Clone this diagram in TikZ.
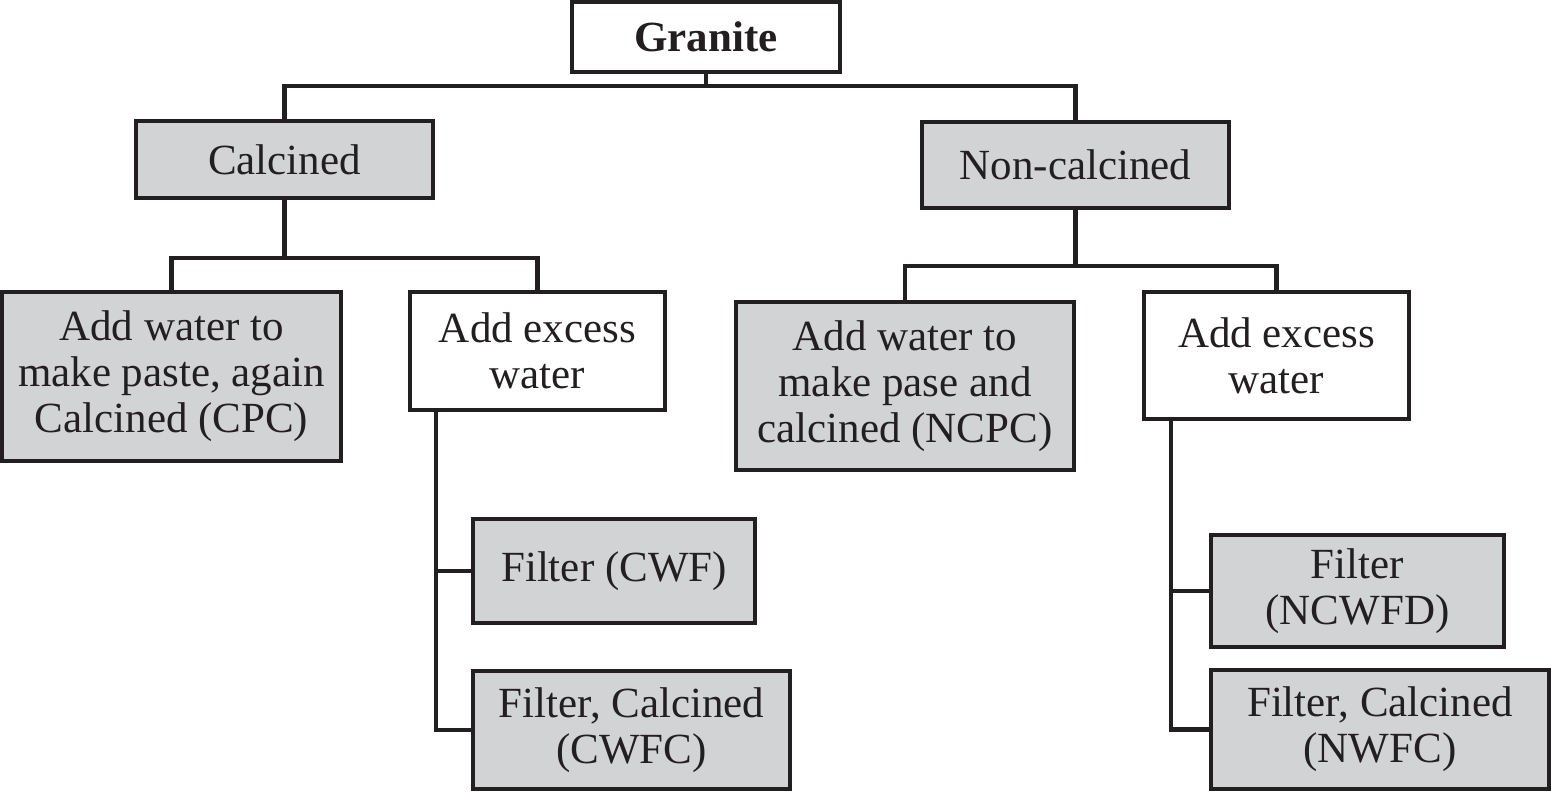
\documentclass[tikz,border=0pt]{standalone}
\usepackage{fontspec}
\setmainfont{Liberation Serif}
\usepackage{tikz}
\definecolor{boxgray}{RGB}{209,211,212}
\definecolor{inkdark}{RGB}{35,31,32}
\tikzset{
  stagebox/.style={draw=inkdark, line width=2.2pt, fill=boxgray, inner sep=0pt,
    align=center, font=\fontsize{21.5}{23}\selectfont, text=inkdark},
  plainbox/.style={stagebox, fill=white},
  link/.style={draw=inkdark, line width=2.2pt}
}
\begin{document}
\begin{tikzpicture}[x=0.5pt,y=-0.5pt]
\useasboundingbox (0,0) rectangle (1551,792);
% top
\node[plainbox, minimum width=134pt, minimum height=35pt] (granite) at (706,37) {\textbf{Granite}};
\node[stagebox, minimum width=148.5pt, minimum height=38.5pt] (calc) at (284.5,159.5) {Calcined};
\node[stagebox, minimum width=153.5pt, minimum height=43pt] (noncalc) at (1075.5,165) {Non-calcined};
% second level
\node[stagebox, minimum width=169.5pt, minimum height=84.5pt] (cpc) at (171.5,376.5) {Add water to\\make paste, again\\Calcined (CPC)};
\node[plainbox, minimum width=127.5pt, minimum height=59pt] (aewl) at (537.5,351) {Add excess\\water};
\node[stagebox, minimum width=169pt, minimum height=84pt] (ncpc) at (905,386) {Add water to\\make pase and\\calcined (NCPC)};
\node[plainbox, minimum width=132.5pt, minimum height=63.5pt] (aewr) at (1276.5,355.5) {Add excess\\water};
% filters
\node[stagebox, minimum width=141pt, minimum height=52pt] (cwf) at (614,571) {Filter (CWF)};
\node[stagebox, minimum width=158.5pt, minimum height=59pt] (cwfc) at (631.5,730) {Filter, Calcined\\(CWFC)};
\node[stagebox, minimum width=146.5pt, minimum height=56pt] (ncwfd) at (1357.5,591) {Filter\\(NCWFD)};
\node[stagebox, minimum width=169pt, minimum height=59.5pt] (nwfc) at (1380,729.5) {Filter, Calcined\\(NWFC)};
% connectors
\coordinate (jtop) at (706,86);
\coordinate (jcalc) at (284.5,258);
\coordinate (jnon) at (1075.5,266);
\coordinate (tl) at (436,410);
\coordinate (tr) at (1171,419);
\draw[link] (granite.south) -- (jtop) -| (calc.north);
\draw[link] (jtop) -| (noncalc.north);
\draw[link] (calc.south) -- (jcalc) -| (cpc.north);
\draw[link] (jcalc) -| (aewl.north);
\draw[link] (noncalc.south) -- (jnon) -| (ncpc.north);
\draw[link] (jnon) -| (aewr.north);
\draw[link] (tl) |- (cwfc.west);
\draw[link] (cwf.west) -- (cwf.west -| tl);
\draw[link] (tr) |- (nwfc.west);
\draw[link] (ncwfd.west) -- (ncwfd.west -| tr);
\end{tikzpicture}
\end{document}
